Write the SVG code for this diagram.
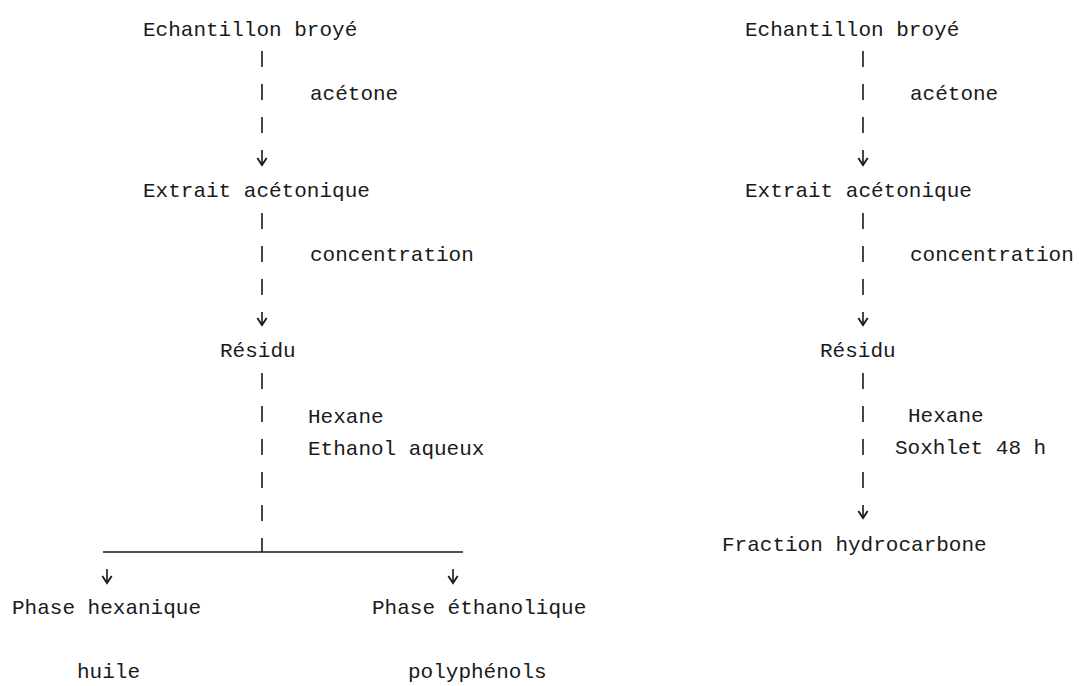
<svg xmlns="http://www.w3.org/2000/svg" width="1079" height="686" viewBox="0 0 1079 686">
  <style>
    text { font-family: "Liberation Mono", "DejaVu Sans Mono", monospace; font-size: 21px; fill: #1a1a1a; }
    .pipe { stroke: #1a1a1a; stroke-width: 1.6; fill: none; stroke-dasharray: 16 17; }
    .solid { stroke: #1a1a1a; stroke-width: 1.6; fill: none; }
  </style>
  <defs>
    <marker id="arr" markerUnits="userSpaceOnUse" markerWidth="14" markerHeight="14" viewBox="-8 -6 10 12" refX="0" refY="0" orient="auto">
      <path d="M-6,-4 L0,0 L-6,4" fill="none" stroke="#1a1a1a" stroke-width="1.6"/>
    </marker>
  </defs>
  <rect width="1079" height="686" fill="#ffffff"/>

  <g id="connectors">
    <!-- left column -->
    <path class="pipe" d="M262,51 V165" marker-end="url(#arr)"/>
    <path class="pipe" d="M262,213 V325" marker-end="url(#arr)"/>
    <path class="pipe" d="M262,373 V552"/>
    <path class="solid" d="M103,552 H463"/>
    <path class="solid" d="M107,569 V583" marker-end="url(#arr)"/>
    <path class="solid" d="M453,569 V583" marker-end="url(#arr)"/>
    <!-- right column -->
    <path class="pipe" d="M863,51 V165" marker-end="url(#arr)"/>
    <path class="pipe" d="M863,213 V325" marker-end="url(#arr)"/>
    <path class="pipe" d="M863,373 V518" marker-end="url(#arr)"/>
  </g>

  <!-- left flow -->
  <g id="L-echantillon"><text x="143" y="36">Echantillon broyé</text></g>
  <g id="L-acetone"><text x="310" y="100">acétone</text></g>
  <g id="L-extrait"><text x="143" y="197">Extrait acétonique</text></g>
  <g id="L-concentration"><text x="310" y="261">concentration</text></g>
  <g id="L-residu"><text x="220" y="357">Résidu</text></g>
  <g id="L-solvants"><text x="308" y="423">Hexane</text><text x="308" y="455">Ethanol aqueux</text></g>
  <g id="L-phase-hexanique"><text x="12" y="614">Phase hexanique</text></g>
  <g id="L-phase-ethanolique"><text x="372" y="614">Phase éthanolique</text></g>
  <g id="L-huile"><text x="77" y="678">huile</text></g>
  <g id="L-polyphenols"><text x="408" y="678">polyphénols</text></g>

  <!-- right flow -->
  <g id="R-echantillon"><text x="745" y="36">Echantillon broyé</text></g>
  <g id="R-acetone"><text x="910" y="100">acétone</text></g>
  <g id="R-extrait"><text x="745" y="197">Extrait acétonique</text></g>
  <g id="R-concentration"><text x="910" y="261">concentration</text></g>
  <g id="R-residu"><text x="820" y="357">Résidu</text></g>
  <g id="R-solvants"><text x="908" y="422">Hexane</text><text x="895" y="454">Soxhlet 48 h</text></g>
  <g id="R-fraction"><text x="722" y="551">Fraction hydrocarbone</text></g>
</svg>
